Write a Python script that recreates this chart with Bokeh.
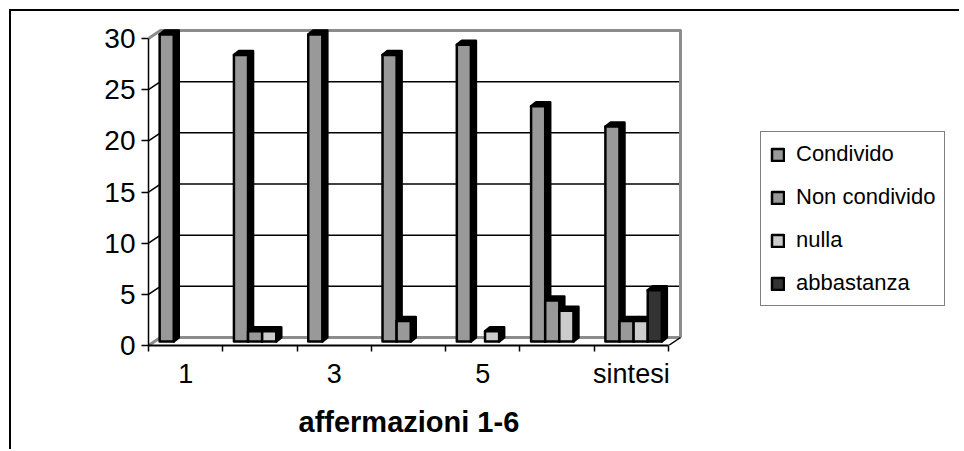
from bokeh.plotting import figure
from bokeh.models import Range1d, FixedTicker, Legend, LegendItem, Title
from bokeh.embed import file_html
from bokeh.resources import INLINE

# ---------------- data ----------------
categories = ["1", "2", "3", "4", "5", "6", "sintesi"]
x_tick_labels = ["1", "3", "5", "sintesi"]
series_names = ["Condivido", "Non condivido", "nulla", "abbastanza"]
condivido = [30, 28, 30, 28, 29, 23, 21]
non_condivido = [0, 1, 0, 2, 0, 4, 2]
nulla = [0, 1, 0, 0, 1, 3, 2]
abbastanza = [0, 0, 0, 0, 0, 0, 5]
y_ticks = [0, 5, 10, 15, 20, 25, 30]
x_title = "affermazioni 1-6"

series_values = [condivido, non_condivido, nulla, abbastanza]
series_colors = ["#999999", "#999999", "#cccccc", "#333333"]

FONT = "Liberation Sans"

# ---------------- geometry (pixels -> data units) ----------------
PX_X = 74.29      # pixels per category
PX_Y = 10.233     # pixels per unit of value
W, H = 950, 440
LEFT, TOP, FRAME_H = 137, 17, 317
n = len(categories)
ymax = y_ticks[-1]

BX, BY = 12 / PX_X, 8 / PX_Y      # depth of the 3D box
bx, by = 5 / PX_X, 4 / PX_Y       # depth of each bar
GAP0 = 0.15                        # offset of first bar inside category
W_BAR = 0.19                       # width of one bar slot
BASE = 4 / PX_Y                    # bars stand at mid depth of the floor

p = figure(width=W, height=H,
           x_range=Range1d(0, (W - LEFT) / PX_X),
           y_range=Range1d(0, FRAME_H / PX_Y),
           output_backend="svg", toolbar_location=None,
           min_border_left=LEFT, min_border_right=0,
           min_border_top=TOP, min_border_bottom=H - TOP - FRAME_H)
p.styles = {"margin-left": "9px", "margin-top": "9px",
            "border-left": "2px solid black", "border-top": "2px solid black"}
p.outline_line_color = None
p.xgrid.visible = False
p.ygrid.visible = False
p.background_fill_color = "white"

# ---------------- 3D box: back wall gridlines ----------------
inner = y_ticks[1:-1]
p.segment(x0=[BX] * len(inner), y0=[t + BY for t in inner],
          x1=[n + BX] * len(inner), y1=[t + BY for t in inner],
          line_color="black", line_width=1.5)
p.segment(x0=[0] * len(inner), y0=inner,
          x1=[BX] * len(inner), y1=[t + BY for t in inner],
          line_color="black", line_width=1.5)
# wall borders (gray)
p.line(x=[0, BX, n + BX, n + BX], y=[ymax, ymax + BY, ymax + BY, BY],
       line_color="#8c8c8c", line_width=3, line_join="round")
p.line(x=[0, BX, n + BX], y=[0, BY, BY],
       line_color="#8c8c8c", line_width=3, line_join="round")
p.segment(x0=[n], y0=[0], x1=[n + BX], y1=[BY], line_color="black", line_width=1.5)

# ---------------- bars ----------------
legend_items = []
for s, (name, vals, col) in enumerate(zip(series_names, series_values, series_colors)):
    lefts, rights, tops, xs, ys = [], [], [], [], []
    for c, v in enumerate(vals):
        if v <= 0:
            continue
        l = c + GAP0 + s * W_BAR
        r = l + W_BAR
        t = v + BASE
        lefts.append(l); rights.append(r); tops.append(t)
        xs.append([l, l + bx, r + bx, r + bx, r, r])
        ys.append([t, t + by, t + by, BASE + by, BASE, t])
    p.patches(xs=xs, ys=ys, fill_color="black", line_color="black",
              line_width=2.5, line_join="round")
    rr = p.quad(left=lefts, right=rights, bottom=[BASE] * len(lefts), top=tops,
                fill_color=col, line_color="black", line_width=2.5, line_join="round")
    legend_items.append(LegendItem(label=name, renderers=[rr]))

# ---------------- axes ----------------
label_pos = [categories.index(lb) + 0.5 for lb in x_tick_labels]
xa = p.xaxis[0]
xa.ticker = FixedTicker(ticks=label_pos, minor_ticks=list(range(n + 1)))
xa.major_label_overrides = {pos: lb for pos, lb in zip(label_pos, x_tick_labels)}
xa.bounds = (0, n)
xa.axis_line_color = "black"
xa.axis_line_width = 2
xa.major_tick_out = 0
xa.major_tick_in = 0
xa.minor_tick_out = 6
xa.minor_tick_in = 0
xa.minor_tick_line_color = "black"
xa.minor_tick_line_width = 1.5
xa.major_label_text_font = FONT
xa.major_label_text_font_size = "27px"
xa.major_label_text_color = "black"
xa.major_label_standoff = 7

ya = p.yaxis[0]
ya.ticker = FixedTicker(ticks=y_ticks, minor_ticks=[])
ya.bounds = (0, ymax)
ya.axis_line_color = "black"
ya.axis_line_width = 1.5
ya.major_tick_out = 7
ya.major_tick_in = 0
ya.major_tick_line_color = "black"
ya.major_tick_line_width = 1.5
ya.minor_tick_out = 0
ya.minor_tick_in = 0
ya.major_label_text_font = FONT
ya.major_label_text_font_size = "28px"
ya.major_label_text_color = "black"
ya.major_label_standoff = 6

# axis title, centred under the front axis
title = Title(text=x_title, align="left", offset=150, standoff=24,
              text_font=FONT, text_font_size="29px", text_font_style="bold",
              text_color="black")
p.add_layout(title, "below")

# ---------------- legend ----------------
legend = Legend(items=legend_items, location=(612, 39),
                label_text_font=FONT, label_text_font_size="22px",
                label_text_color="black", label_height=25,
                glyph_width=15, glyph_height=15, label_standoff=11,
                spacing=17, padding=9, margin=0,
                border_line_color="black", border_line_width=1.5,
                background_fill_color="white", background_fill_alpha=1)
p.add_layout(legend)

open("out.html", "w").write(file_html(p, INLINE))
